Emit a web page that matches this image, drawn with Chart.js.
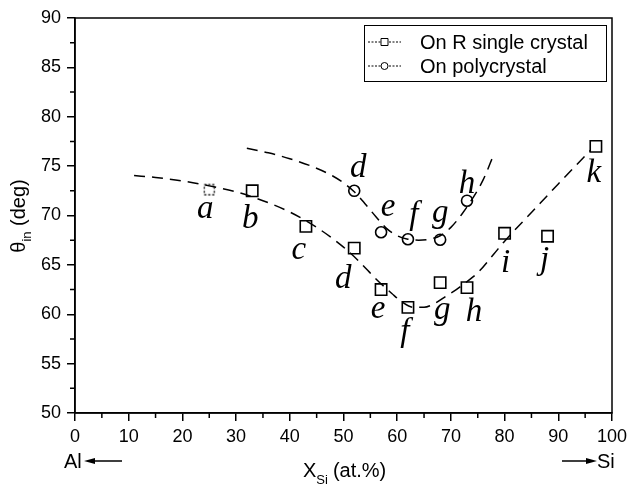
<!DOCTYPE html>
<html>
<head>
<meta charset="utf-8">
<script src="https://cdn.jsdelivr.net/npm/chart.js@4.4.1/dist/chart.umd.min.js"></script>
<style>html,body{margin:0;background:#fff}</style>
</head>
<body>
<canvas id="chart" width="627" height="487"></canvas>
<script>
// measured points
const crystalX    = [25, 33, 43, 52, 57, 62, 68, 73, 80, 88, 97];
const crystalY    = [72.6, 72.5, 68.9, 66.7, 62.5, 60.7, 63.2, 62.7, 68.2, 67.9, 77.0];
const crystalTags = ['a', 'b', 'c', 'd', 'e', 'f', 'g', 'h', 'i', 'j', 'k'];
const polyX       = [52, 57, 62, 68, 73];
const polyY       = [72.5, 68.3, 67.6, 67.55, 71.5];
const polyTags    = ['d', 'e', 'f', 'g', 'h'];

// dashed guide curves
const fitCrystalX = [11, 15, 20, 25, 30, 35, 40, 45, 50, 53, 56, 59, 61, 63, 65, 67, 69, 71, 73, 75, 78, 80, 85, 90, 96];
const fitCrystalY = [74.05, 73.85, 73.5, 73.0, 72.4, 71.5, 70.35, 68.8, 66.8, 65.3, 63.6, 62.1, 61.2, 60.7, 60.7, 61.1, 61.8, 62.5, 63.3, 64.2, 66.1, 67.4, 70.3, 73.2, 76.6];
const fitPolyX    = [32, 36, 40, 44, 48, 50, 52, 54, 56, 58, 60, 62, 64, 66, 68, 70, 72, 74, 76, 78];
const fitPolyY    = [76.8, 76.35, 75.75, 75.0, 74.0, 73.3, 72.4, 71.2, 69.9, 68.7, 67.95, 67.6, 67.5, 67.6, 67.95, 68.8, 70.1, 71.7, 73.6, 76.2];

const xTickVals = [0, 10, 20, 30, 40, 50, 60, 70, 80, 90, 100];
const yTickVals = [50, 55, 60, 65, 70, 75, 80, 85, 90];

const legendNames = ['On R single crystal', 'On polycrystal'];

const pts = (xs, ys) => xs.map((x, i) => ({ x, y: ys[i] }));

// dotted square for point "a"
const dotted = document.createElement('canvas');
dotted.width = 13; dotted.height = 13;
(() => {
  const g = dotted.getContext('2d');
  g.setLineDash([2, 2]);
  g.lineWidth = 1.3;
  g.strokeRect(1.5, 1.5, 10, 10);
})();

const crystalTagOff = [[-4,28],[-2,37],[-7,33],[-11,40],[-3,28],[-3,34],[2,36],[7,33],[1,39],[-3,33],[-2,36]];
const polyTagOff    = [[4,-14],[7,-16],[6,-15],[0,-18],[0,-8]];

const SANS = '"Liberation Sans", Arial, sans-serif';
const SERIF = '"Liberation Serif", "Times New Roman", serif';

const decor = {
  id: 'decor',
  afterDraw(chart) {
    const { ctx, chartArea: a, scales: { x, y } } = chart;
    ctx.save();
    ctx.strokeStyle = '#000';
    ctx.fillStyle = '#000';

    // frame
    ctx.lineWidth = 1.5;
    ctx.strokeRect(a.left, a.top, a.right - a.left, a.bottom - a.top);

    // minor ticks
    ctx.beginPath();
    for (let v = 5; v < 100; v += 10) {
      const px = x.getPixelForValue(v);
      ctx.moveTo(px, a.bottom); ctx.lineTo(px, a.bottom + 5);
    }
    for (let v = 52.5; v < 90; v += 5) {
      const py = y.getPixelForValue(v);
      ctx.moveTo(a.left, py); ctx.lineTo(a.left - 5, py);
    }
    ctx.stroke();

    // letter tags
    ctx.font = 'italic 33px ' + SERIF;
    ctx.textAlign = 'center';
    ctx.textBaseline = 'alphabetic';
    crystalTags.forEach((t, i) => {
      ctx.fillText(t, x.getPixelForValue(crystalX[i]) + crystalTagOff[i][0],
                      y.getPixelForValue(crystalY[i]) + crystalTagOff[i][1]);
    });
    polyTags.forEach((t, i) => {
      ctx.fillText(t, x.getPixelForValue(polyX[i]) + polyTagOff[i][0],
                      y.getPixelForValue(polyY[i]) + polyTagOff[i][1]);
    });

    // legend
    ctx.lineWidth = 1;
    ctx.strokeRect(364.5, 25.5, 242, 56);
    ctx.font = '20px ' + SANS;
    ctx.textAlign = 'left';
    ctx.textBaseline = 'middle';
    legendNames.forEach((name, i) => {
      const ly = 42 + i * 24;
      ctx.setLineDash([2, 1.5]);
      ctx.beginPath(); ctx.moveTo(368, ly); ctx.lineTo(401, ly); ctx.stroke();
      ctx.setLineDash([]);
      ctx.fillStyle = '#fff';
      ctx.beginPath();
      if (i === 0) ctx.rect(381, ly - 3.5, 7, 7);
      else ctx.arc(384.5, ly, 3.5, 0, Math.PI * 2);
      ctx.fill(); ctx.stroke();
      ctx.fillStyle = '#000';
      ctx.fillText(name, 420, ly + 1);
    });

    // x title: X_Si (at.%)
    ctx.textBaseline = 'alphabetic';
    ctx.font = '20px ' + SANS;
    let tx = 303;
    ctx.fillText('X', tx, 477);
    tx += ctx.measureText('X').width;
    ctx.font = '13px ' + SANS;
    ctx.fillText('Si', tx, 484);
    tx += ctx.measureText('Si').width + 2;
    ctx.font = '20px ' + SANS;
    ctx.fillText('(at.%)', tx + 3, 477);

    // y title: θin (deg), rotated
    ctx.save();
    ctx.translate(25, 216);
    ctx.rotate(-Math.PI / 2);
    ctx.font = '20px ' + SANS;
    const w1 = ctx.measureText('\u03b8').width;
    ctx.font = '13px ' + SANS;
    const w2 = ctx.measureText('in').width;
    ctx.font = '20px ' + SANS;
    const w3 = ctx.measureText(' (deg)').width;
    let rx = -(w1 + w2 + w3) / 2;
    ctx.fillText('\u03b8', rx, 0); rx += w1;
    ctx.font = '13px ' + SANS;
    ctx.fillText('in', rx, 6); rx += w2;
    ctx.font = '20px ' + SANS;
    ctx.fillText(' (deg)', rx, 0);
    ctx.restore();

    // Al <-- and --> Si
    ctx.font = '20px ' + SANS;
    ctx.fillText('Al', 64, 468);
    ctx.fillText('Si', 597, 468);
    ctx.lineWidth = 1.3;
    ctx.beginPath();
    ctx.moveTo(122, 461); ctx.lineTo(90, 461);
    ctx.moveTo(562, 461); ctx.lineTo(590, 461);
    ctx.stroke();
    ctx.beginPath();
    ctx.moveTo(84, 461); ctx.lineTo(95, 458); ctx.lineTo(95, 464); ctx.closePath();
    ctx.moveTo(597, 461); ctx.lineTo(586, 458); ctx.lineTo(586, 464); ctx.closePath();
    ctx.fill();

    ctx.restore();
  }
};

new Chart(document.getElementById('chart'), {
  type: 'scatter',
  data: {
    datasets: [
      {
        label: 'fit crystal',
        data: pts(fitCrystalX, fitCrystalY),
        showLine: true,
        borderColor: '#000',
        borderWidth: 1.5,
        borderDash: [11, 7],
        pointRadius: 0,
        cubicInterpolationMode: 'monotone'
      },
      {
        label: 'fit poly',
        data: pts(fitPolyX, fitPolyY),
        showLine: true,
        borderColor: '#000',
        borderWidth: 1.5,
        borderDash: [11, 7],
        pointRadius: 0,
        cubicInterpolationMode: 'monotone'
      },
      {
        label: legendNames[0],
        data: pts(crystalX, crystalY),
        pointStyle: c => c.dataIndex === 0 ? dotted : 'rect',
        pointRadius: 8,
        pointBorderWidth: 1.6,
        pointBorderColor: '#000',
        pointBackgroundColor: '#fff'
      },
      {
        label: legendNames[1],
        data: pts(polyX, polyY),
        pointStyle: 'circle',
        pointRadius: 5.5,
        pointBorderWidth: 1.6,
        pointBorderColor: '#000',
        pointBackgroundColor: '#fff'
      }
    ]
  },
  options: {
    responsive: false,
    animation: false,
    layout: { padding: { top: 18, right: 15, left: 0, bottom: 0 } },
    plugins: { legend: { display: false }, tooltip: { enabled: false } },
    scales: {
      x: {
        type: 'linear', min: 0, max: 100,
        afterBuildTicks: s => { s.ticks = xTickVals.map(v => ({ value: v })); },
        afterFit: s => { s.height = 74; s.paddingLeft = 0; s.paddingRight = 0; },
        grid: { drawOnChartArea: false, drawTicks: true, tickLength: 8, color: '#000', lineWidth: 1.5 },
        border: { display: true, color: '#000', width: 1.5 },
        ticks: { color: '#000', font: { family: SANS, size: 18 }, padding: 5, maxRotation: 0 }
      },
      y: {
        type: 'linear', min: 50, max: 90,
        afterBuildTicks: s => { s.ticks = yTickVals.map(v => ({ value: v })); },
        afterFit: s => { s.width = 75; },
        grid: { drawOnChartArea: false, drawTicks: true, tickLength: 8, color: '#000', lineWidth: 1.5 },
        border: { display: true, color: '#000', width: 1.5 },
        ticks: { color: '#000', font: { family: SANS, size: 18 }, padding: 6 }
      }
    }
  },
  plugins: [decor]
});
</script>
</body>
</html>
